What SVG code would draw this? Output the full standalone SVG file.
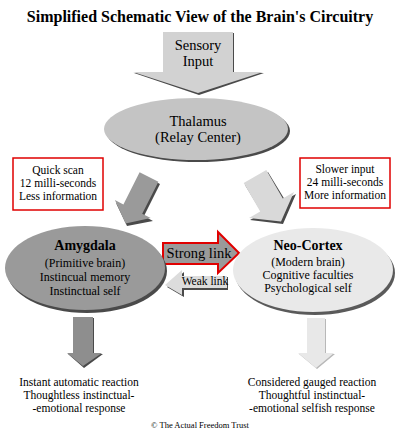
<svg xmlns="http://www.w3.org/2000/svg" width="400" height="434" viewBox="0 0 400 434">
<style>
text{font-family:"Liberation Serif","Times New Roman",serif;fill:#000;text-anchor:middle}
.t{font-size:14.5px}
.s{font-size:11.5px}
.b{font-weight:bold;font-size:14px}
.m{font-size:12px}
.sh{fill:#4a4a4a}
.box{fill:#fff;stroke:#e00000;stroke-width:1.5}
</style>
<rect width="400" height="434" fill="#fff"/>
<text x="200" y="22" style="font-weight:bold;font-size:16px">Simplified Schematic View of the Brain's Circuitry</text>

<g id="connectors">
  <g id="sensory-input">
    <polygon class="sh" points="164,33 234,33 234,73 264,73 199,95 134,73 164,73"/>
    <polygon fill="#d2d2d2" points="163,32 233,32 233,72 263,72 198,93 133,72 163,72"/>
    <text class="t" x="198" y="50">Sensory</text>
    <text class="t" x="198" y="66">Input</text>
  </g>
  <g id="arrow-quick">
    <polygon class="sh" points="141,174 160,184 144,216 153,221 127,226 116,203 125,207"/>
    <polygon fill="#9a9a9a" points="139.6,172.3 158.4,181.7 142.2,213.8 150.7,218.1 125.6,223.4 114.9,200.1 123.4,204.4"/>
  </g>
  <g id="arrow-slow">
    <polygon class="sh" points="268,172 245,185 262,213 250,220 283,224 296,194 285,200"/>
    <polygon fill="#d9d9d9" points="266.3,170 243.7,183 260.2,211.6 249,218.1 281,221.5 294,192.1 282.8,198.6"/>
  </g>
  <g id="strong-link">
    <polygon fill="#9a9a9a" stroke="#e00000" stroke-width="2" points="163,243 218,243 218,232 239,253 218,273 218,264 163,264"/>
    <text class="t" x="199" y="258">Strong link</text>
  </g>
  <g id="weak-link">
    <polygon class="sh" points="228,277 228,290 184,290 184,297 167,287 184,272 184,277"/>
    <polygon fill="#dcdcdc" points="227,276 227,288 182,288 182,295 165,285 182,270 182,276"/>
    <text class="s" x="205" y="285">Weak link</text>
  </g>
  <g id="arrow-down-left">
    <polygon class="sh" points="74,318 94,318 94,354 103,354 84,368 68,354 74,354"/>
    <polygon fill="#8e8e8e" points="73,317 93,317 93,353 102,353 83,366 67,353 73,353"/>
  </g>
  <g id="arrow-down-right">
    <polygon fill="#b8b8b8" points="308,319 326,319 326,354 335,354 317,369 299,354 308,354"/>
    <polygon fill="#e8e8e8" points="307,318 325,318 325,353 334,353 316,368 298,353 307,353"/>
  </g>
</g>

<g id="thalamus">
  <ellipse cx="198" cy="131" rx="92" ry="31" class="sh"/>
  <ellipse cx="196" cy="129" rx="92" ry="31" fill="#c4c4c4"/>
  <text class="t" x="198" y="126">Thalamus</text>
  <text class="t" x="198" y="142">(Relay Center)</text>
</g>

<g id="quick-scan">
  <rect class="box" x="13" y="158" width="90" height="52"/>
  <text class="s" x="58" y="174">Quick scan</text>
  <text class="s" x="58" y="187">12 milli-seconds</text>
  <text class="s" x="58" y="200">Less information</text>
</g>

<g id="slower-input">
  <rect class="box" x="300" y="158" width="90" height="50"/>
  <text class="s" x="345" y="173">Slower input</text>
  <text class="s" x="345" y="186">24 milli-seconds</text>
  <text class="s" x="345" y="199">More information</text>
</g>

<g id="amygdala">
  <ellipse cx="87" cy="271" rx="80" ry="42" class="sh"/>
  <ellipse cx="85" cy="268" rx="80" ry="42" fill="#9a9a9a"/>
  <text class="b" x="85" y="250">Amygdala</text>
  <text class="m" x="85" y="267">(Primitive brain)</text>
  <text class="m" x="85" y="281">Instincual memory</text>
  <text class="m" x="85" y="295">Instinctual self</text>
</g>

<g id="neo-cortex">
  <ellipse cx="315" cy="273" rx="80" ry="42" fill="#5a5a5a"/>
  <ellipse cx="313" cy="270" rx="80" ry="42" fill="#e9e9e9"/>
  <text class="b" x="308" y="250">Neo-Cortex</text>
  <text class="m" x="308" y="266">(Modern brain)</text>
  <text class="m" x="308" y="279">Cognitive faculties</text>
  <text class="m" x="308" y="292">Psychological self</text>
</g>

<g id="instant-reaction">
  <text class="s" x="79" y="386">Instant automatic reaction</text>
  <text class="s" x="79" y="399">Thoughtless instinctual-</text>
  <text class="s" x="79" y="412">-emotional response</text>
</g>

<g id="considered-reaction">
  <text class="s" x="312" y="386">Considered gauged reaction</text>
  <text class="s" x="312" y="399">Thoughtful instinctual-</text>
  <text class="s" x="312" y="412">-emotional selfish response</text>
</g>

<text x="200" y="428" style="font-size:8.5px">© The Actual Freedom Trust</text>
</svg>
